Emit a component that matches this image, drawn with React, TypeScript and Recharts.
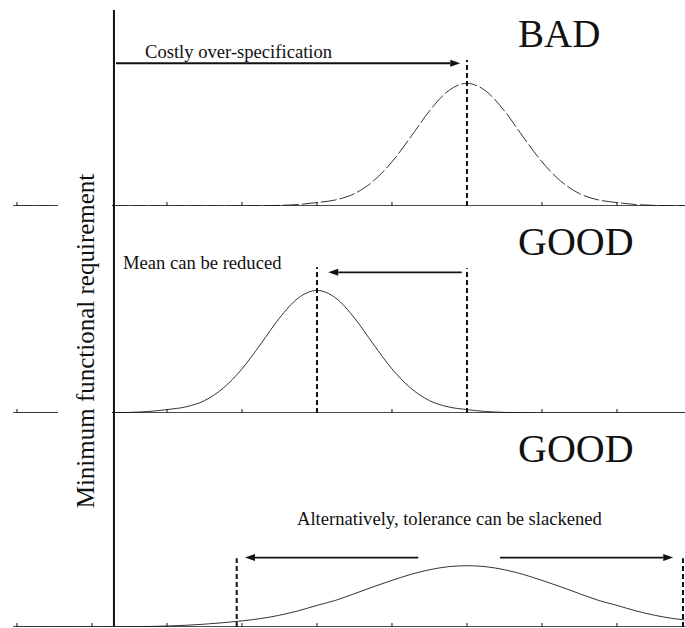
import { LineChart, Line, XAxis, YAxis, ReferenceLine } from "recharts";

// x positions (tick units) where the curves were read
const xs = [0, 0.25, 0.5, 0.75, 1, 1.25, 1.5, 1.75, 2, 2.25, 2.5, 2.75, 3, 3.25, 3.5, 3.75, 4, 4.25, 4.5, 4.75, 5, 5.25, 5.5, 5.75, 6, 6.25, 6.5, 6.75, 7, 7.25, 7.5, 7.75, 8, 8.25, 8.5, 8.75, 8.9];

// top panel: BAD (mean far above the requirement)
const badCurve = [0, 0, 0, 0, 0, 0, 0, 0, 0, 0, 0, 0, 0, 0.2, 0.5, 1.2, 2.8, 5.0, 10.1, 20.3, 36.0, 56.3, 77.5, 93.8, 100, 93.8, 77.5, 56.3, 36.0, 20.3, 10.1, 5.0, 2.8, 1.2, 0.5, 0.2, 0.1];
// middle panel: mean reduced
const reducedCurve = [0, 0, 0, 0, 0, 0.2, 0.5, 1.2, 2.8, 5.0, 10.1, 20.3, 36.0, 56.3, 77.5, 93.8, 100, 93.8, 77.5, 56.3, 36.0, 20.3, 10.1, 5.0, 2.8, 1.2, 0.5, 0.2, 0, 0, 0, 0, 0, 0, 0, 0, 0];
// bottom panel: tolerance slackened
const slackCurve = [0, 0, 0, 0, 0, 0.1, 0.2, 0.4, 0.8, 1.4, 2.3, 3.5, 5.0, 6.9, 9.6, 13.2, 17.6, 21.8, 27.2, 32.8, 38.0, 42.9, 46.7, 49.2, 50, 49.2, 46.7, 42.9, 38.0, 32.8, 27.2, 21.8, 17.6, 13.2, 9.6, 6.9, 5.8];

const tickValues = [0, 1, 2, 3, 4, 5, 6, 7, 8];
const xDomain = [-0.053, 8.907];
const axisX = 1.293; // minimum functional requirement

const rows = xs.map((x, i) => ({ x, bad: badCurve[i], reduced: reducedCurve[i], slack: slackCurve[i] }));

const FONT = '"Liberation Serif", "Times New Roman", serif';
const INK = "#111";

function Arrow(p: any) {
  const { x1, y1, x2, y2 } = p;
  const dir = x2 > x1 ? 1 : -1;
  const head = 10;
  return (
    <g>
      <line x1={x1} y1={y1} x2={x2 - dir * head} y2={y2} stroke={INK} strokeWidth={1.8} />
      <polygon points={`${x2},${y2} ${x2 - dir * head},${y2 - 3.5} ${x2 - dir * head},${y2 + 3.5}`} fill={INK} />
    </g>
  );
}

function Panel({ top, height, marginTop, yMax, dataKey, dash, children }: any) {
  return (
    <div style={{ position: "absolute", left: 0, top, width: 685, height }}>
      <LineChart width={685} height={height} data={rows} margin={{ top: marginTop, right: 0, bottom: 0, left: 13 }}>
        <XAxis
          type="number"
          dataKey="x"
          domain={xDomain}
          ticks={tickValues}
          allowDataOverflow
          mirror
          height={1}
          tickSize={4}
          tickFormatter={() => ""}
          axisLine={{ stroke: INK, strokeWidth: 1.5 }}
          tickLine={{ stroke: INK, strokeWidth: 1 }}
        />
        <YAxis hide domain={[0, yMax]} allowDataOverflow />
        <ReferenceLine x={axisX} stroke={INK} strokeWidth={2} ifOverflow="visible" />
        <Line
          type="monotone"
          dataKey={dataKey}
          stroke="#333"
          strokeWidth={1}
          strokeDasharray={dash}
          dot={false}
          isAnimationActive={false}
        />
        {children}
      </LineChart>
    </div>
  );
}

const dashed = { stroke: INK, strokeWidth: 2, strokeDasharray: "5 3" };

export default function App() {
  return (
    <div style={{ position: "absolute", left: 0, top: 0, width: 685, height: 628, background: "#fff", fontFamily: FONT }}>
      <Panel top={0} height={206} marginTop={10} yMax={159.8} dataKey="bad" dash="16 3">
        <ReferenceLine segment={[{ x: 6, y: 0 }, { x: 6, y: 119 }]} {...dashed} ifOverflow="visible" />
        <ReferenceLine segment={[{ x: 1.32, y: 116.4 }, { x: 5.91, y: 116.4 }]} shape={Arrow} ifOverflow="visible" />
      </Panel>
      <Panel top={205} height={208} marginTop={0} yMax={169.7} dataKey="reduced">
        <ReferenceLine segment={[{ x: 4, y: 0 }, { x: 4, y: 119 }]} {...dashed} ifOverflow="visible" />
        <ReferenceLine segment={[{ x: 6, y: 0 }, { x: 6, y: 118 }]} {...dashed} ifOverflow="visible" />
        <ReferenceLine segment={[{ x: 5.93, y: 114.8 }, { x: 4.15, y: 114.8 }]} shape={Arrow} ifOverflow="visible" />
      </Panel>
      <Panel top={412} height={215} marginTop={0} yMax={175.4} dataKey="slack">
        <ReferenceLine segment={[{ x: 2.93, y: 0 }, { x: 2.93, y: 56 }]} {...dashed} ifOverflow="visible" />
        <ReferenceLine segment={[{ x: 8.88, y: 0 }, { x: 8.88, y: 56 }]} {...dashed} ifOverflow="visible" />
        <ReferenceLine segment={[{ x: 5.35, y: 56.6 }, { x: 3.04, y: 56.6 }]} shape={Arrow} ifOverflow="visible" />
        <ReferenceLine segment={[{ x: 6.44, y: 56.6 }, { x: 8.75, y: 56.6 }]} shape={Arrow} ifOverflow="visible" />
      </Panel>
      <svg width={685} height={628} style={{ position: "absolute", left: 0, top: 0, pointerEvents: "none" }}>
        <rect x={58} y={150} width={54} height={390} fill="#fff" />
        <text x={94} y={341} transform="rotate(-90, 94, 341)" textAnchor="middle" fontSize={25} fill={INK} fontFamily={FONT}>
          Minimum functional requirement
        </text>
        <text x={145} y={58} fontSize={18.6} fill={INK} fontFamily={FONT}>Costly over-specification</text>
        <text x={518} y={47} fontSize={39} fill={INK} fontFamily={FONT}>BAD</text>
        <text x={123} y={269} fontSize={18.6} fill={INK} fontFamily={FONT}>Mean can be reduced</text>
        <text x={518} y={255} fontSize={40} fill={INK} fontFamily={FONT}>GOOD</text>
        <text x={518} y={462} fontSize={40} fill={INK} fontFamily={FONT}>GOOD</text>
        <text x={297} y={525} fontSize={18.6} fill={INK} fontFamily={FONT}>Alternatively, tolerance can be slackened</text>
      </svg>
    </div>
  );
}
